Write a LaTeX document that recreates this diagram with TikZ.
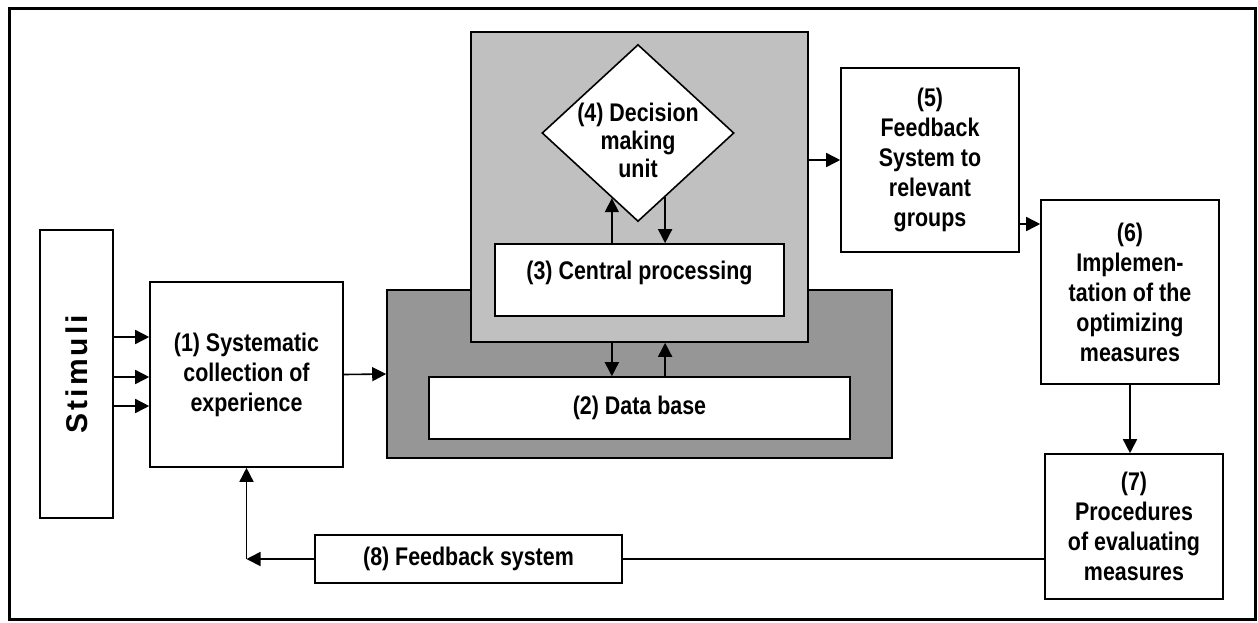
\documentclass[tikz,border=0pt]{standalone}
\usepackage{fontspec}
\setmainfont{Liberation Sans}[FakeStretch=0.84]
\newfontfamily\stimfont{Liberation Sans}[LetterSpace=10]
\usetikzlibrary{positioning,arrows.meta,shapes.geometric,calc}
\definecolor{storegray}{RGB}{150,150,150}
\definecolor{procgray}{RGB}{192,192,192}

\begin{document}
\begin{tikzpicture}[x=1pt,y=-1pt,
	box/.style={draw, fill=white, line width=1.6pt, align=center, inner sep=0pt,
		font=\bfseries\fontsize{25.5}{30}\selectfont},
	arr/.style={line width=1.6pt, -{Triangle[length=14pt,width=14pt]}},
	link/.style={line width=1.6pt}]
	\useasboundingbox (0,0) rectangle (1258,622);
	% outer frame
	\draw[line width=3pt] (9,8) rectangle (1255,619);

	% stimuli and collection
	\node [box, minimum width=73, minimum height=288] (stim) at (76.5,374) {\rotatebox{90}{\stimfont\bfseries\fontsize{30}{30}\selectfont Stimuli}};
	\node [box, minimum width=193, minimum height=185] (sys) at (246.5,374.5) {(1) Systematic\\collection of\\experience};

	% grey blocks with data base, central processing and decision unit
	\node [box, fill=storegray, minimum width=505, minimum height=168] (store) at (639.5,374) {};
	\node [box, minimum width=421, minimum height=62] (db) at (639.5,408) {(2) Data base};
	\node [box, fill=procgray, minimum width=337, minimum height=310] (proc) at (639.5,187) {};
	\node [box, minimum width=289, minimum height=72, text depth=20pt] (cp) at (639.5,280) {(3) Central processing};
	\node [box, shape=diamond, minimum width=192, minimum height=177] (dm) at (638,133) {};
	\node [align=center, inner sep=0pt, font=\bfseries\fontsize{25.5}{28}\selectfont] (dmtext) at (638,140) {(4) Decision\\making\\unit};

	% right hand chain
	\node [box, minimum width=178, minimum height=184] (fb) at (930,160) {(5)\\Feedback\\System to\\relevant\\groups};
	\node [box, minimum width=178, minimum height=184] (impl) at (1130,292) {(6)\\Implemen-\\tation of the\\optimizing\\measures};
	\node [box, minimum width=178, minimum height=145] (eval) at (1134,526.5) {(7)\\Procedures\\of evaluating\\measures};
	\node [box, minimum width=307, minimum height=48] (fbs) at (468.5,559) {(8) Feedback system};

	% connectors
	\foreach \yy in {337,377,406}
		\draw[arr] (stim.east |- 0,\yy) -- (sys.west |- 0,\yy);
	\draw[arr] (sys.east) -- (store.west);

	\coordinate (dmL) at ($(dm.south)!0.27!(dm.west)$);
	\coordinate (dmR) at ($(dm.south)!0.28!(dm.east)$);
	\draw[arr] (dmL |- cp.north) -- (dmL);
	\draw[arr] (dmR) -- (dmR |- cp.north);
	\draw[arr] (dmL |- proc.south) -- (dmL |- db.north);
	\draw[arr] (dmR |- db.north) -- (dmR |- proc.south);

	\draw[arr] (fb.west -| proc.east) -- (fb.west);
	\draw[arr] ([yshift=-64pt]fb.east) -- ([yshift=-64pt]fb.east -| impl.west);
	\draw[arr] (impl.south) -- (impl.south |- eval.north);

	\draw[link] (eval.west |- fbs.east) -- (fbs.east);
	\draw[arr] (fbs.west) -- (sys.south |- fbs.west);
	\draw[arr] (sys.south |- fbs.west) -- (sys.south);
\end{tikzpicture}
\end{document}
